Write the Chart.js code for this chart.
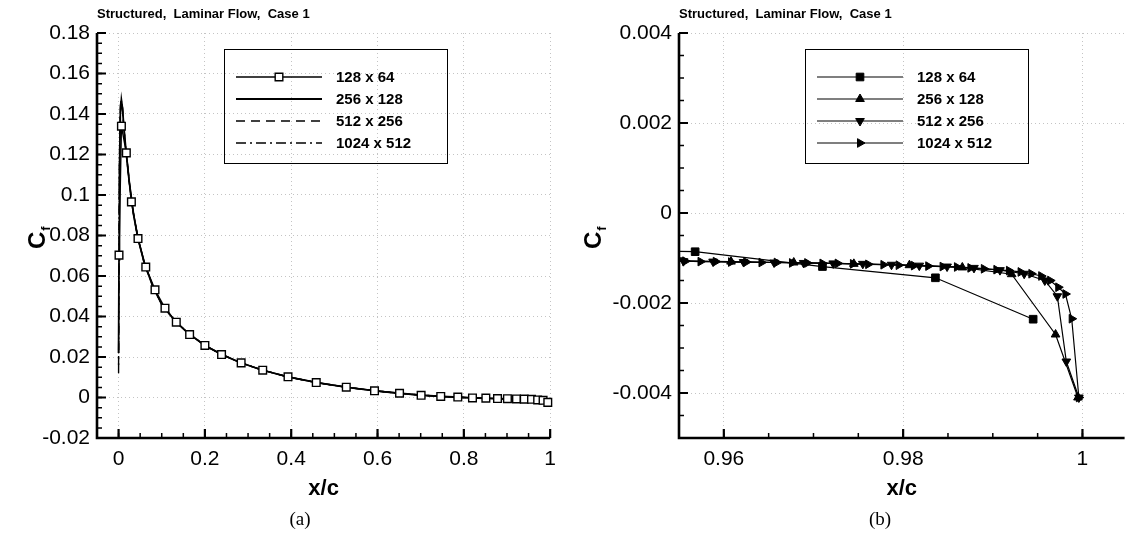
<!DOCTYPE html>
<html><head><meta charset="utf-8">
<script src="https://cdn.jsdelivr.net/npm/chart.js@4/dist/chart.umd.min.js"></script>
<style>
html,body{margin:0;padding:0;background:#fff;}
#wrap{position:relative;width:1131px;height:540px;overflow:hidden;background:#fff;}
canvas{position:absolute;top:0;}
</style></head><body>
<div id="wrap">
<canvas id="ca" width="565" height="540" style="left:0"></canvas>
<canvas id="cb" width="566" height="540" style="left:565px"></canvas>
</div>
<script>
// ---------- DATA: chart (a) ----------
const titleText = 'Structured,  Laminar Flow,  Case 1';
const seriesNames = ['128 x 64', '256 x 128', '512 x 256', '1024 x 512'];

const A_xTicks = [0, 0.2, 0.4, 0.6, 0.8, 1];
const A_xLabels = ['0', '0.2', '0.4', '0.6', '0.8', '1'];
const A_yTicks = [-0.02, 0, 0.02, 0.04, 0.06, 0.08, 0.1, 0.12, 0.14, 0.16, 0.18];
const A_yLabels = ['-0.02', '0', '0.02', '0.04', '0.06', '0.08', '0.1', '0.12', '0.14', '0.16', '0.18'];

const A_x128 = [0.001, 0.0066, 0.018, 0.0297, 0.045, 0.063, 0.0844, 0.1075, 0.1337, 0.1646, 0.200, 0.2386, 0.284, 0.334, 0.3926, 0.458, 0.5276, 0.593, 0.651, 0.701, 0.7465, 0.786, 0.820, 0.851, 0.878, 0.901, 0.922, 0.940, 0.9568, 0.9710, 0.9836, 0.9945];
const A_y128 = [0.0703, 0.134, 0.1208, 0.0966, 0.0785, 0.0644, 0.0532, 0.0441, 0.0372, 0.0311, 0.0257, 0.0212, 0.0171, 0.0135, 0.0102, 0.0074, 0.0051, 0.0033, 0.0021, 0.0011, 0.0005, 0.0002, -0.0002, -0.0003, -0.0005, -0.0006, -0.0007, -0.0008, -0.0009, -0.0012, -0.0014, -0.0024];

const A_x256 = [0.000, 0.001, 0.002, 0.004, 0.0065, 0.009, 0.012, 0.018, 0.025, 0.035, 0.045, 0.060, 0.080, 0.100, 0.130, 0.160, 0.200, 0.240, 0.280, 0.330, 0.390, 0.460, 0.530, 0.600, 0.650, 0.700, 0.750, 0.800, 0.850, 0.900, 0.940, 0.970, 0.990, 0.997, 1.000];
const A_y256 = [0.022, 0.068, 0.108, 0.140, 0.147, 0.143, 0.134, 0.120, 0.106, 0.090, 0.0785, 0.066, 0.0545, 0.046, 0.038, 0.032, 0.0257, 0.0212, 0.0174, 0.0137, 0.0103, 0.0073, 0.0050, 0.0032, 0.0021, 0.0012, 0.0005, 0.0000, -0.0004, -0.0007, -0.0009, -0.0011, -0.0014, -0.0027, -0.0041];

const A_x512 = [0.000, 0.0007, 0.0015, 0.003, 0.005, 0.0065, 0.009, 0.012, 0.018, 0.025, 0.035, 0.045, 0.060, 0.080, 0.100, 0.130, 0.160, 0.200, 0.240, 0.280, 0.330, 0.390, 0.460, 0.530, 0.600, 0.650, 0.700, 0.750, 0.800, 0.850, 0.900, 0.940, 0.970, 0.990, 0.998, 1.000];
const A_y512 = [0.016, 0.055, 0.095, 0.132, 0.146, 0.147, 0.143, 0.134, 0.120, 0.106, 0.090, 0.0785, 0.066, 0.0545, 0.046, 0.038, 0.032, 0.0257, 0.0212, 0.0174, 0.0137, 0.0103, 0.0073, 0.0050, 0.0032, 0.0021, 0.0012, 0.0005, 0.0000, -0.0004, -0.0007, -0.0009, -0.0011, -0.0014, -0.0033, -0.0041];

const A_x1024 = [0.000, 0.0004, 0.001, 0.002, 0.004, 0.006, 0.009, 0.012, 0.018, 0.025, 0.035, 0.045, 0.060, 0.080, 0.100, 0.130, 0.160, 0.200, 0.240, 0.280, 0.330, 0.390, 0.460, 0.530, 0.600, 0.650, 0.700, 0.750, 0.800, 0.850, 0.900, 0.940, 0.970, 0.990, 0.998, 1.000];
const A_y1024 = [0.012, 0.040, 0.075, 0.118, 0.144, 0.147, 0.143, 0.134, 0.120, 0.106, 0.090, 0.0785, 0.066, 0.0545, 0.046, 0.038, 0.032, 0.0257, 0.0212, 0.0174, 0.0137, 0.0103, 0.0073, 0.0050, 0.0032, 0.0021, 0.0012, 0.0005, 0.0000, -0.0004, -0.0007, -0.0009, -0.0011, -0.0014, -0.0023, -0.0041];

// ---------- DATA: chart (b) ----------
const B_xTicks = [0.96, 0.98, 1];
const B_xLabels = ['0.96', '0.98', '1'];
const B_yTicks = [-0.004, -0.002, 0, 0.002, 0.004];
const B_yLabels = ['-0.004', '-0.002', '0', '0.002', '0.004'];

const B_x128 = [0.940, 0.9568, 0.9710, 0.9836, 0.9945];
const B_y128 = [-0.00080, -0.00086, -0.00119, -0.00144, -0.00236];

const B_x256 = [0.9480, 0.9545, 0.9608, 0.9678, 0.9745, 0.9807, 0.9866, 0.9921, 0.9970, 0.9995];
const B_y256 = [-0.00104, -0.00106, -0.00108, -0.00110, -0.00113, -0.00116, -0.00121, -0.00136, -0.00270, -0.00410];

const B_x512 = [0.9520, 0.9555, 0.9588, 0.9622, 0.9656, 0.9689, 0.9722, 0.9755, 0.9787, 0.9818, 0.9849, 0.9879, 0.9908, 0.9935, 0.9958, 0.9972, 0.9982, 0.9996];
const B_y512 = [-0.00106, -0.00107, -0.00108, -0.00109, -0.00110, -0.00111, -0.00112, -0.00113, -0.00115, -0.00117, -0.00119, -0.00122, -0.00127, -0.00135, -0.00150, -0.00185, -0.00330, -0.00410];

const B_x1024 = [0.9540, 0.9557, 0.9574, 0.9591, 0.9608, 0.9625, 0.9642, 0.9659, 0.9676, 0.9693, 0.9710, 0.9727, 0.9744, 0.9761, 0.9778, 0.9795, 0.9812, 0.9828, 0.9844, 0.9860, 0.9875, 0.9890, 0.9904, 0.9918, 0.9931, 0.9943, 0.9954, 0.9964, 0.9973, 0.9981, 0.9988, 0.9996];
const B_y1024 = [-0.00107, -0.00107, -0.00108, -0.00108, -0.00109, -0.00109, -0.00110, -0.00110, -0.00111, -0.00111, -0.00112, -0.00112, -0.00113, -0.00114, -0.00115, -0.00116, -0.00117, -0.00118, -0.00119, -0.00120, -0.00122, -0.00124, -0.00126, -0.00128, -0.00131, -0.00135, -0.00140, -0.00150, -0.00165, -0.00180, -0.00235, -0.00410];

// ---------- helpers ----------
function pts(xs, ys) { return xs.map((x, i) => ({ x: x, y: ys[i] })); }
const FONT = '"Liberation Sans", Arial, sans-serif';

const framePlugin = {
  id: 'frame',
  afterDraw(chart, args, o) {
    const ctx = chart.ctx, a = chart.chartArea, xs = chart.scales.x, ys = chart.scales.y;
    ctx.save();
    ctx.strokeStyle = '#000';
    ctx.lineCap = 'butt';
    ctx.lineWidth = 1.5;
    ctx.beginPath();
    for (let v = o.xMinorStart; v <= xs.max + 1e-9; v += o.xMinor) {
      const p = xs.getPixelForValue(v); if (p < a.left + 1 || p > a.right + 0.5) continue;
      ctx.moveTo(p, a.bottom); ctx.lineTo(p, a.bottom - 5);
    }
    for (let v = o.yMinorStart; v <= ys.max + 1e-9; v += o.yMinor) {
      const p = ys.getPixelForValue(v); if (p > a.bottom - 1 || p < a.top - 0.5) continue;
      ctx.moveTo(a.left, p); ctx.lineTo(a.left + 5, p);
    }
    ctx.stroke();
    ctx.lineWidth = 2.2;
    ctx.beginPath();
    o.xMajor.forEach(v => { const p = xs.getPixelForValue(v); ctx.moveTo(p, a.bottom); ctx.lineTo(p, a.bottom - 9); });
    o.yMajor.forEach(v => { const p = ys.getPixelForValue(v); ctx.moveTo(a.left, p); ctx.lineTo(a.left + 9, p); });
    ctx.stroke();
    ctx.lineWidth = 2.6;
    ctx.beginPath();
    ctx.moveTo(a.left, a.top); ctx.lineTo(a.left, a.bottom); ctx.lineTo(a.right, a.bottom);
    ctx.stroke();
    ctx.fillStyle = '#000';
    ctx.textAlign = 'left'; ctx.textBaseline = 'alphabetic';
    ctx.font = 'bold 13px ' + FONT;
    ctx.fillText(titleText, a.left, 18);
    ctx.textAlign = 'center';
    ctx.font = 'bold 22px ' + FONT;
    ctx.fillText('x/c', (a.left + a.right) / 2, 495);
    ctx.font = '19px "Liberation Serif", "Times New Roman", serif';
    ctx.fillText(o.tag, o.tagX, 525);
    ctx.save();
    ctx.translate(o.cfX, 240);
    ctx.rotate(-Math.PI / 2);
    ctx.textAlign = 'left';
    ctx.font = 'bold 24px ' + FONT;
    ctx.fillText('C', -9, 0);
    const wC = ctx.measureText('C').width;
    ctx.font = 'bold 13px ' + FONT;
    ctx.fillText('f', -9 + wC + 1, 5);
    ctx.restore();
    const L = o.legend;
    ctx.lineWidth = 1;
    ctx.strokeStyle = '#000';
    ctx.strokeRect(L.x + 0.5, L.y + 0.5, L.w, L.h);
    chart.data.datasets.forEach((ds, i) => {
      const y = L.y + 28 + i * 22;
      ctx.save();
      ctx.lineWidth = ds.borderWidth;
      ctx.setLineDash(ds.borderDash || []);
      ctx.beginPath(); ctx.moveTo(L.x + 12, y); ctx.lineTo(L.x + 98, y); ctx.stroke();
      ctx.restore();
      ctx.save();
      ctx.fillStyle = ds.pointBackgroundColor || '#000';
      ctx.strokeStyle = '#000';
      ctx.lineWidth = ds.pointBorderWidth || 1;
      if (ds.pointRadius > 0) {
        Chart.helpers.drawPoint(ctx, { pointStyle: ds.pointStyle, rotation: ds.rotation || 0, radius: ds.pointRadius, borderWidth: ds.pointBorderWidth }, L.x + 55, y);
      }
      ctx.restore();
      ctx.fillStyle = '#000';
      ctx.textAlign = 'left'; ctx.textBaseline = 'middle';
      ctx.font = 'bold 15px ' + FONT;
      ctx.fillText(ds.label, L.x + 112, y + 1);
    });
    ctx.restore();
  }
};

function scaleOpts(min, max, ticks, labels, isX, fit) {
  return {
    type: 'linear', min: min, max: max,
    afterFit(s) { if (isX) s.height = fit; else s.width = fit; },
    afterBuildTicks(s) { s.ticks = ticks.map(v => ({ value: v })); },
    ticks: {
      callback: (v) => { const k = ticks.findIndex(t => Math.abs(t - v) < 1e-9); return k >= 0 ? labels[k] : ''; },
      font: { family: FONT, size: 21 }, color: '#000', padding: isX ? 9 : 7,
      maxRotation: 0, autoSkip: false
    },
    grid: { color: '#c4c4c4', lineWidth: 1, drawTicks: false },
    border: { display: false, dash: [1, 3] }
  };
}

function lineDs(label, xs, ys, extra) {
  return Object.assign({
    label: label, data: pts(xs, ys), showLine: true, borderColor: '#000',
    backgroundColor: '#000', borderWidth: 1.5, pointRadius: 0, pointHoverRadius: 0,
    tension: 0, fill: false
  }, extra);
}

new Chart(document.getElementById('ca'), {
  type: 'scatter',
  data: {
    datasets: [
      lineDs(seriesNames[0], A_x128, A_y128, { pointStyle: 'rect', pointRadius: 5.4, pointBackgroundColor: '#fff', pointBorderColor: '#000', pointBorderWidth: 1.4, borderWidth: 1.4, clip: false }),
      lineDs(seriesNames[1], A_x256, A_y256, { borderWidth: 1.8, clip: false }),
      lineDs(seriesNames[2], A_x512, A_y512, { borderWidth: 1.4, borderDash: [9, 6], clip: false }),
      lineDs(seriesNames[3], A_x1024, A_y1024, { borderWidth: 1.4, borderDash: [10, 4, 2, 4], clip: false })
    ]
  },
  options: {
    responsive: false, animation: false, devicePixelRatio: 1,
    layout: { padding: { left: 0, right: 13, top: 33, bottom: 0 } },
    plugins: {
      legend: { display: false }, tooltip: { enabled: false },
      frame: {
        xMajor: A_xTicks, yMajor: A_yTicks, xMinor: 0.05, xMinorStart: -0.05, yMinor: 0.005, yMinorStart: -0.02,
        tag: '(a)', tagX: 300, cfX: 45,
        legend: { x: 224, y: 49, w: 223, h: 114 }
      }
    },
    scales: {
      x: scaleOpts(-0.05, 1.0, A_xTicks, A_xLabels, true, 102),
      y: scaleOpts(-0.02, 0.18, A_yTicks, A_yLabels, false, 97)
    }
  },
  plugins: [framePlugin]
});

new Chart(document.getElementById('cb'), {
  type: 'scatter',
  data: {
    datasets: [
      lineDs(seriesNames[0], B_x128, B_y128, { pointStyle: 'rect', pointRadius: 5.4, pointBackgroundColor: '#000', pointBorderColor: '#000', pointBorderWidth: 1, borderWidth: 1.2 }),
      lineDs(seriesNames[1], B_x256, B_y256, { pointStyle: 'triangle', pointRadius: 5, pointBackgroundColor: '#000', pointBorderColor: '#000', pointBorderWidth: 1, borderWidth: 1.2 }),
      lineDs(seriesNames[2], B_x512, B_y512, { pointStyle: 'triangle', rotation: 180, pointRotation: 180, pointRadius: 5, pointBackgroundColor: '#000', pointBorderColor: '#000', pointBorderWidth: 1, borderWidth: 1.2 }),
      lineDs(seriesNames[3], B_x1024, B_y1024, { pointStyle: 'triangle', rotation: 90, pointRotation: 90, pointRadius: 5, pointBackgroundColor: '#000', pointBorderColor: '#000', pointBorderWidth: 1, borderWidth: 1.2 })
    ]
  },
  options: {
    responsive: false, animation: false, devicePixelRatio: 1,
    layout: { padding: { left: 0, right: 0, top: 33, bottom: 0 } },
    plugins: {
      legend: { display: false }, tooltip: { enabled: false },
      frame: {
        xMajor: B_xTicks, yMajor: B_yTicks, xMinor: 0.005, xMinorStart: 0.955, yMinor: 0.0005, yMinorStart: -0.005,
        tag: '(b)', tagX: 315, cfX: 36,
        legend: { x: 240, y: 49, w: 223, h: 114 }
      }
    },
    scales: {
      x: scaleOpts(0.955, 1.0047, B_xTicks, B_xLabels, true, 102),
      y: scaleOpts(-0.005, 0.004, B_yTicks, B_yLabels, false, 114)
    }
  },
  plugins: [framePlugin]
});
</script>
</body></html>
